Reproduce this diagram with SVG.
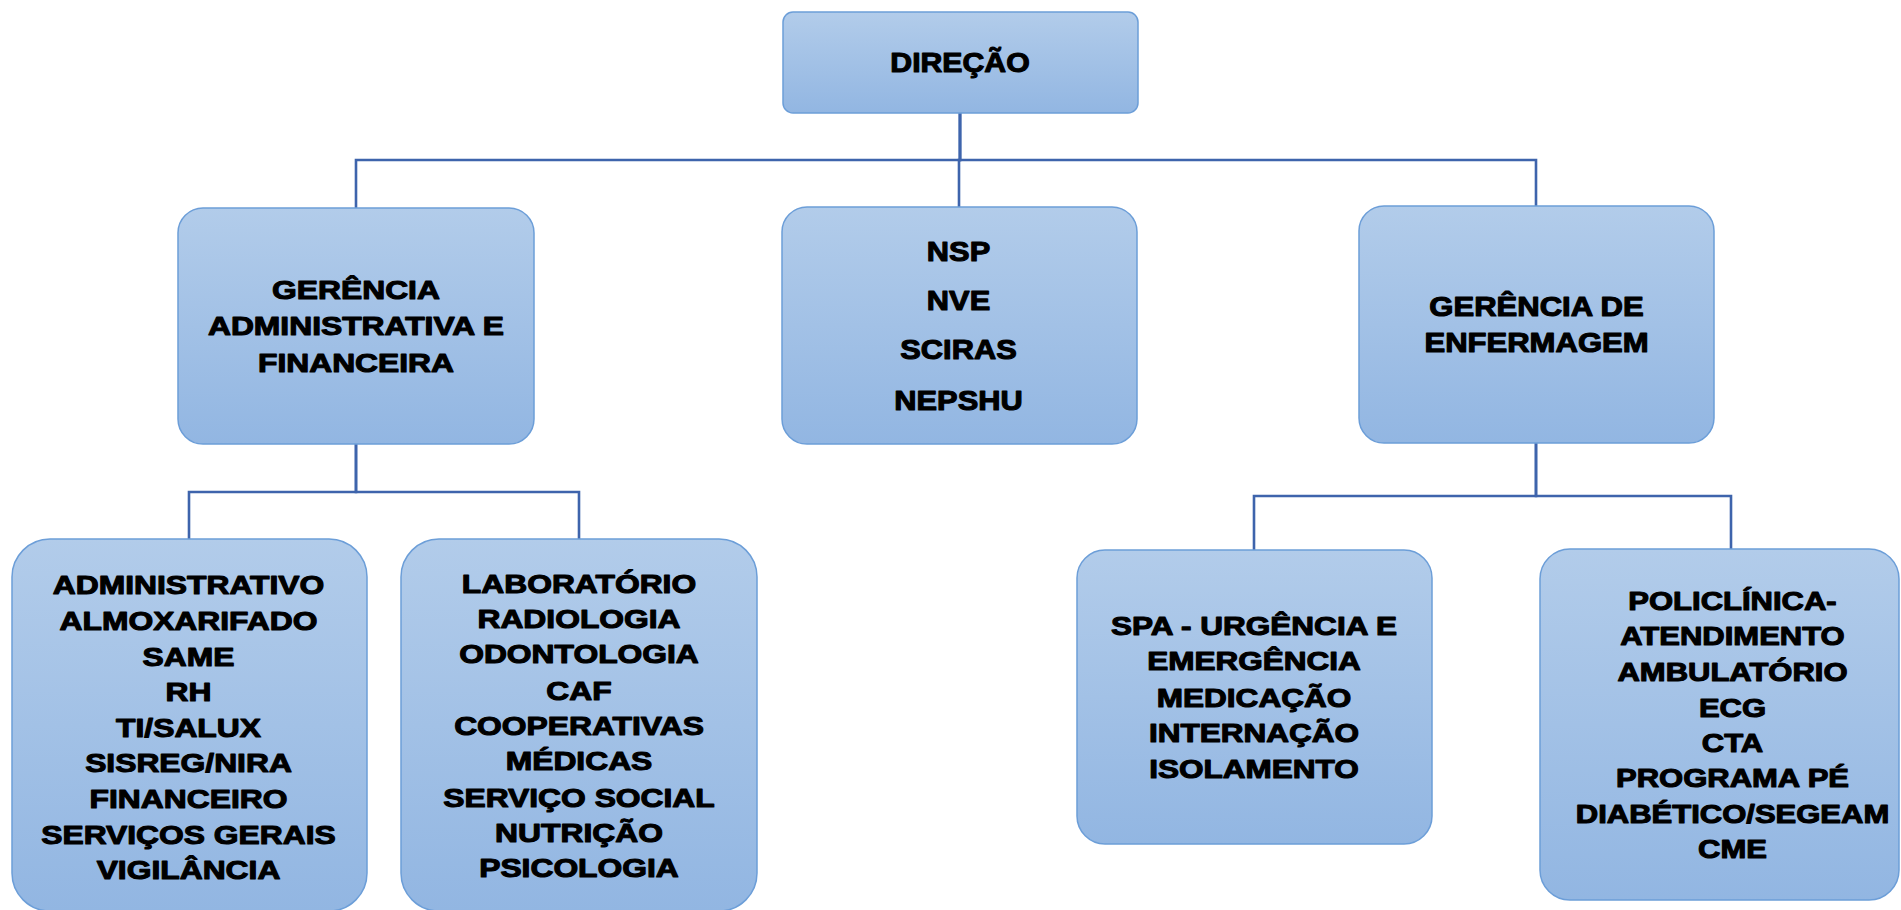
<svg xmlns="http://www.w3.org/2000/svg" width="1901" height="910" viewBox="0 0 1901 910">
<defs>
<linearGradient id="fillG" x1="0" y1="0" x2="0" y2="1">
<stop offset="0" stop-color="#B2CCEA"/>
<stop offset="1" stop-color="#92B6E2"/>
</linearGradient>
</defs>
<style>
.box{fill:url(#fillG);stroke:#6C9ED8;stroke-width:1.5}
.lbl{font-family:"Liberation Sans",Arial,sans-serif;font-weight:bold;fill:#000;stroke:#000;stroke-width:1.1;stroke-linejoin:round;text-anchor:middle}
.conn{fill:none;stroke:#3E64AC;stroke-width:2.6}
</style>
<rect width="1901" height="910" fill="#FFFFFF"/>
<g id="connectors">
<path class="conn" d="M960,113 V160 H356 V208"/>
<path class="conn" d="M960,113 V160 H959 V207"/>
<path class="conn" d="M960,113 V160 H1536 V206"/>
<path class="conn" d="M356,444 V492 H189 V539"/>
<path class="conn" d="M356,444 V492 H579 V539"/>
<path class="conn" d="M1536,443 V496 H1254 V550"/>
<path class="conn" d="M1536,443 V496 H1731 V549"/>
</g>
<g id="direcao">
<rect class="box" x="783" y="12" width="355" height="101" rx="10"/>
<g transform="translate(960,0) scale(1.08,1)">
<text class="lbl" font-size="28" x="0" y="72">DIREÇÃO</text>
</g>
</g>
<g id="gerencia-adm">
<rect class="box" x="178" y="208" width="356" height="236" rx="25"/>
<g transform="translate(356,0) scale(1.2,1)">
<text class="lbl" font-size="26.5"><tspan x="0" y="299">GERÊNCIA</tspan><tspan x="0" y="335">ADMINISTRATIVA E</tspan><tspan x="0" y="372">FINANCEIRA</tspan></text>
</g>
</g>
<g id="nucleos">
<rect class="box" x="782" y="207" width="355" height="237" rx="25"/>
<g transform="translate(958.5,0) scale(1.12,1)">
<text class="lbl" font-size="27.5"><tspan x="0" y="261">NSP</tspan><tspan x="0" y="310">NVE</tspan><tspan x="0" y="359">SCIRAS</tspan><tspan x="0" y="410">NEPSHU</tspan></text>
</g>
</g>
<g id="gerencia-enf">
<rect class="box" x="1359" y="206" width="355" height="237" rx="25"/>
<g transform="translate(1536.5,0) scale(1.15,1)">
<text class="lbl" font-size="27"><tspan x="0" y="316">GERÊNCIA DE</tspan><tspan x="0" y="352">ENFERMAGEM</tspan></text>
</g>
</g>
<g id="administrativo">
<rect class="box" x="12" y="539" width="355" height="372" rx="38"/>
<g transform="translate(188.5,0) scale(1.2,1)">
<text class="lbl" font-size="26.5"><tspan x="0" y="594">ADMINISTRATIVO</tspan><tspan x="0" y="630">ALMOXARIFADO</tspan><tspan x="0" y="666">SAME</tspan><tspan x="0" y="701">RH</tspan><tspan x="0" y="737">TI/SALUX</tspan><tspan x="0" y="772">SISREG/NIRA</tspan><tspan x="0" y="808">FINANCEIRO</tspan><tspan x="0" y="844">SERVIÇOS GERAIS</tspan><tspan x="0" y="879">VIGILÂNCIA</tspan></text>
</g>
</g>
<g id="laboratorio">
<rect class="box" x="401" y="539" width="356" height="372" rx="38"/>
<g transform="translate(579,0) scale(1.2,1)">
<text class="lbl" font-size="26.5"><tspan x="0" y="593">LABORATÓRIO</tspan><tspan x="0" y="628">RADIOLOGIA</tspan><tspan x="0" y="663">ODONTOLOGIA</tspan><tspan x="0" y="700">CAF</tspan><tspan x="0" y="735">COOPERATIVAS</tspan><tspan x="0" y="770">MÉDICAS</tspan><tspan x="0" y="807">SERVIÇO SOCIAL</tspan><tspan x="0" y="842">NUTRIÇÃO</tspan><tspan x="0" y="877">PSICOLOGIA</tspan></text>
</g>
</g>
<g id="spa">
<rect class="box" x="1077" y="550" width="355" height="294" rx="28"/>
<g transform="translate(1254,0) scale(1.19,1)">
<text class="lbl" font-size="26.5"><tspan x="0" y="635">SPA - URGÊNCIA E</tspan><tspan x="0" y="670">EMERGÊNCIA</tspan><tspan x="0" y="707">MEDICAÇÃO</tspan><tspan x="0" y="742">INTERNAÇÃO</tspan><tspan x="0" y="778">ISOLAMENTO</tspan></text>
</g>
</g>
<g id="policlinica">
<rect class="box" x="1540" y="549" width="359" height="351" rx="30"/>
<g transform="translate(1732.5,0) scale(1.17,1)">
<text class="lbl" font-size="26.5"><tspan x="0" y="610">POLICLÍNICA-</tspan><tspan x="0" y="645">ATENDIMENTO</tspan><tspan x="0" y="681">AMBULATÓRIO</tspan><tspan x="0" y="717">ECG</tspan><tspan x="0" y="752">CTA</tspan><tspan x="0" y="787">PROGRAMA PÉ</tspan><tspan x="0" y="823">DIABÉTICO/SEGEAM</tspan><tspan x="0" y="858">CME</tspan></text>
</g>
</g>
</svg>
